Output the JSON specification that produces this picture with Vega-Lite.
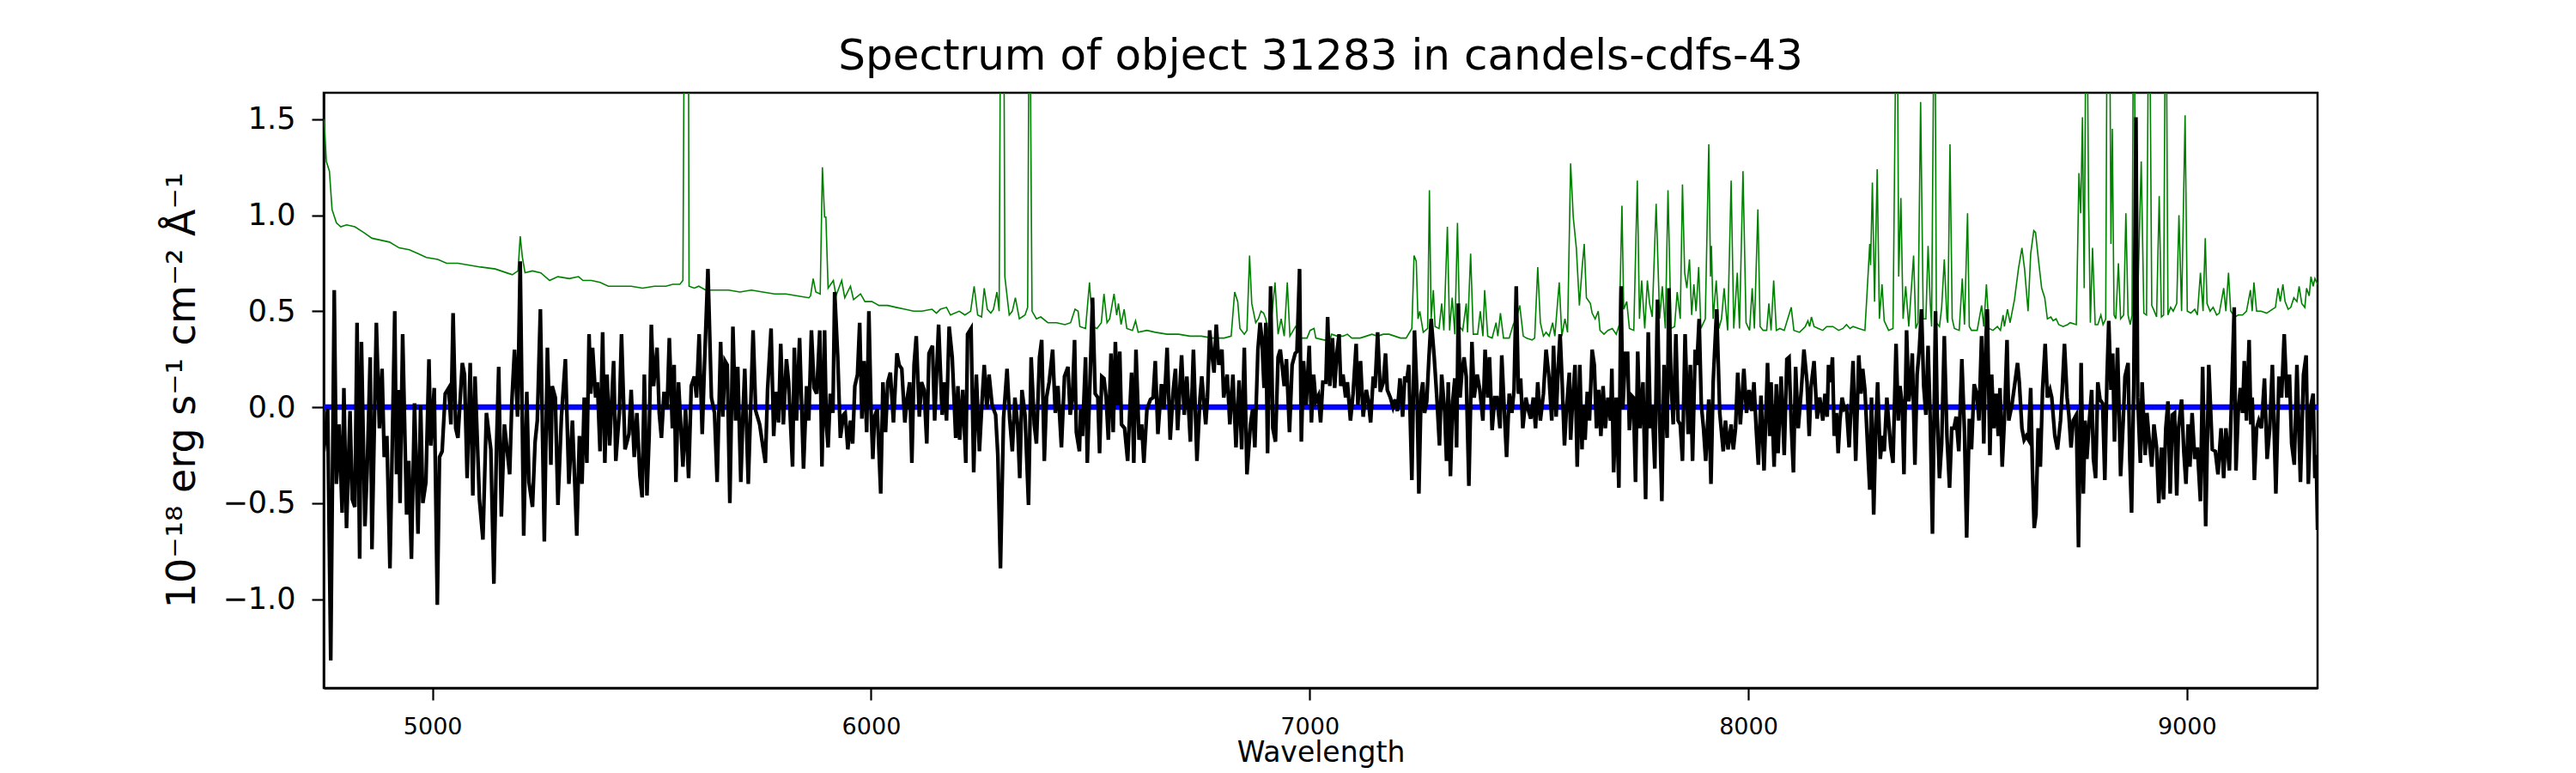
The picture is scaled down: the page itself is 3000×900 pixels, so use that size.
{
  "$schema": "https://vega.github.io/schema/vega-lite/v6.json",
  "width": 2322,
  "height": 693,
  "autosize": {"type": "none"},
  "padding": {"left": 377, "top": 108, "right": 301, "bottom": 99},
  "background": "white",
  "title": {
    "text": "Spectrum of object 31283 in candels-cdfs-43",
    "font": "DejaVu Sans",
    "fontSize": 50,
    "fontWeight": "normal",
    "color": "black",
    "anchor": "middle",
    "baseline": "alphabetic",
    "offset": 25,
    "dy": 48
  },
  "datasets": {
    "sky": [
      {"wave":4753,"flux":1.50},{"wave":4758,"flux":1.28},{"wave":4765,"flux":1.23},{"wave":4771,"flux":1.03},{"wave":4781,"flux":0.96},{"wave":4791,"flux":0.94},{"wave":4804,"flux":0.95},{"wave":4823,"flux":0.94},{"wave":4843,"flux":0.91},{"wave":4862,"flux":0.88},{"wave":4882,"flux":0.87},{"wave":4902,"flux":0.86},{"wave":4924,"flux":0.83},{"wave":4947,"flux":0.82},{"wave":4967,"flux":0.80},{"wave":4986,"flux":0.78},{"wave":5012,"flux":0.77},{"wave":5032,"flux":0.75},{"wave":5058,"flux":0.75},{"wave":5084,"flux":0.74},{"wave":5110,"flux":0.73},{"wave":5143,"flux":0.72},{"wave":5169,"flux":0.70},{"wave":5182,"flux":0.69},{"wave":5195,"flux":0.71},{"wave":5200,"flux":0.89},{"wave":5205,"flux":0.78},{"wave":5211,"flux":0.70},{"wave":5228,"flux":0.71},{"wave":5247,"flux":0.70},{"wave":5267,"flux":0.66},{"wave":5286,"flux":0.68},{"wave":5312,"flux":0.67},
      {"wave":5333,"flux":0.68},{"wave":5343,"flux":0.66},{"wave":5362,"flux":0.66},{"wave":5382,"flux":0.65},{"wave":5401,"flux":0.63},{"wave":5427,"flux":0.63},{"wave":5453,"flux":0.63},{"wave":5479,"flux":0.62},{"wave":5506,"flux":0.63},{"wave":5532,"flux":0.63},{"wave":5548,"flux":0.64},{"wave":5564,"flux":0.64},{"wave":5571,"flux":0.66},{"wave":5575,"flux":2.5},{"wave":5583,"flux":2.5},{"wave":5585,"flux":0.63},{"wave":5597,"flux":0.62},{"wave":5607,"flux":0.63},{"wave":5623,"flux":0.61},{"wave":5649,"flux":0.61},{"wave":5675,"flux":0.61},{"wave":5701,"flux":0.60},{"wave":5727,"flux":0.61},{"wave":5753,"flux":0.60},{"wave":5780,"flux":0.59},{"wave":5806,"flux":0.59},{"wave":5832,"flux":0.58},{"wave":5858,"flux":0.57},{"wave":5862,"flux":0.58},{"wave":5868,"flux":0.67},{"wave":5874,"flux":0.60},{"wave":5884,"flux":0.59},{"wave":5889,"flux":1.25},{"wave":5894,"flux":0.99},{"wave":5897,"flux":0.99},{"wave":5902,"flux":0.62},
      {"wave":5914,"flux":0.66},{"wave":5920,"flux":0.58},{"wave":5933,"flux":0.66},{"wave":5940,"flux":0.57},{"wave":5953,"flux":0.63},{"wave":5960,"flux":0.56},{"wave":5976,"flux":0.59},{"wave":5986,"flux":0.55},{"wave":6002,"flux":0.55},{"wave":6018,"flux":0.53},{"wave":6038,"flux":0.53},{"wave":6057,"flux":0.52},{"wave":6077,"flux":0.51},{"wave":6097,"flux":0.50},{"wave":6116,"flux":0.50},{"wave":6139,"flux":0.51},{"wave":6149,"flux":0.49},{"wave":6158,"flux":0.51},{"wave":6172,"flux":0.52},{"wave":6181,"flux":0.48},{"wave":6201,"flux":0.50},{"wave":6214,"flux":0.48},{"wave":6227,"flux":0.50},{"wave":6235,"flux":0.63},{"wave":6243,"flux":0.48},{"wave":6252,"flux":0.47},{"wave":6258,"flux":0.62},{"wave":6265,"flux":0.51},{"wave":6273,"flux":0.49},{"wave":6279,"flux":0.51},{"wave":6287,"flux":0.60},{"wave":6292,"flux":0.50},{"wave":6296,"flux":2.5},{"wave":6302,"flux":2.5},{"wave":6305,"flux":0.68},{"wave":6315,"flux":0.48},{"wave":6322,"flux":0.50},{"wave":6329,"flux":0.57},{"wave":6338,"flux":0.46},{"wave":6351,"flux":0.48},{"wave":6357,"flux":0.52},{"wave":6361,"flux":2.5},{"wave":6367,"flux":0.50},{"wave":6377,"flux":0.46},{"wave":6387,"flux":0.47},{"wave":6403,"flux":0.44},{"wave":6423,"flux":0.44},{"wave":6442,"flux":0.43},{"wave":6455,"flux":0.44},{"wave":6465,"flux":0.51},{"wave":6472,"flux":0.50},
      {"wave":6476,"flux":0.42},{"wave":6489,"flux":0.41},{"wave":6498,"flux":0.65},{"wave":6505,"flux":0.42},{"wave":6515,"flux":0.41},{"wave":6525,"flux":0.44},{"wave":6531,"flux":0.59},{"wave":6538,"flux":0.44},{"wave":6544,"flux":0.46},{"wave":6554,"flux":0.59},{"wave":6560,"flux":0.48},{"wave":6564,"flux":0.54},{"wave":6570,"flux":0.43},{"wave":6577,"flux":0.51},{"wave":6583,"flux":0.41},{"wave":6596,"flux":0.40},{"wave":6603,"flux":0.45},{"wave":6609,"flux":0.39},{"wave":6629,"flux":0.40},{"wave":6648,"flux":0.39},{"wave":6675,"flux":0.38},{"wave":6701,"flux":0.38},{"wave":6727,"flux":0.37},{"wave":6753,"flux":0.37},{"wave":6779,"flux":0.36},{"wave":6805,"flux":0.36},{"wave":6821,"flux":0.37},{"wave":6829,"flux":0.60},{"wave":6836,"flux":0.55},{"wave":6841,"flux":0.41},{"wave":6851,"flux":0.38},{"wave":6857,"flux":0.40},{"wave":6863,"flux":0.79},{"wave":6868,"flux":0.54},{"wave":6877,"flux":0.44},{"wave":6883,"flux":0.46},{"wave":6889,"flux":0.50},{"wave":6895,"flux":0.49},{"wave":6900,"flux":0.46},{"wave":6906,"flux":0.38},{"wave":6913,"flux":0.46},{"wave":6921,"flux":0.65},{"wave":6928,"flux":0.38},{"wave":6935,"flux":0.46},{"wave":6942,"flux":0.37},{"wave":6949,"flux":0.65},{"wave":6955,"flux":0.37},{"wave":6968,"flux":0.42},{"wave":6981,"flux":0.36},{"wave":6994,"flux":0.36},{"wave":7001,"flux":0.40},{"wave":7010,"flux":0.41},{"wave":7014,"flux":0.36},{"wave":7033,"flux":0.35},{"wave":7046,"flux":0.35},
      {"wave":7050,"flux":0.38},{"wave":7063,"flux":0.37},{"wave":7076,"flux":0.37},{"wave":7086,"flux":0.38},{"wave":7096,"flux":0.36},{"wave":7115,"flux":0.36},{"wave":7129,"flux":0.37},{"wave":7142,"flux":0.38},{"wave":7155,"flux":0.37},{"wave":7168,"flux":0.38},{"wave":7181,"flux":0.38},{"wave":7194,"flux":0.37},{"wave":7207,"flux":0.36},{"wave":7220,"flux":0.36},{"wave":7233,"flux":0.41},{"wave":7238,"flux":0.79},{"wave":7243,"flux":0.76},{"wave":7247,"flux":0.46},{"wave":7251,"flux":0.50},{"wave":7259,"flux":0.39},{"wave":7269,"flux":0.41},{"wave":7273,"flux":1.13},{"wave":7277,"flux":0.46},{"wave":7282,"flux":0.61},{"wave":7286,"flux":0.42},{"wave":7295,"flux":0.41},{"wave":7301,"flux":0.54},{"wave":7306,"flux":0.40},{"wave":7314,"flux":0.94},{"wave":7319,"flux":0.40},{"wave":7325,"flux":0.57},{"wave":7331,"flux":0.38},{"wave":7337,"flux":0.96},{"wave":7342,"flux":0.42},{"wave":7349,"flux":0.40},{"wave":7357,"flux":0.54},{"wave":7360,"flux":0.39},{"wave":7367,"flux":0.80},{"wave":7373,"flux":0.38},{"wave":7383,"flux":0.38},{"wave":7389,"flux":0.50},{"wave":7395,"flux":0.37},{"wave":7399,"flux":0.61},{"wave":7406,"flux":0.37},{"wave":7416,"flux":0.36},{"wave":7425,"flux":0.44},{"wave":7429,"flux":0.37},{"wave":7435,"flux":0.49},{"wave":7442,"flux":0.36},{"wave":7455,"flux":0.36},{"wave":7464,"flux":0.43},{"wave":7471,"flux":0.46},{"wave":7479,"flux":0.53},{"wave":7487,"flux":0.37},{"wave":7494,"flux":0.36},{"wave":7507,"flux":0.35},{"wave":7513,"flux":0.36},{"wave":7520,"flux":0.73},{"wave":7526,"flux":0.44},{"wave":7533,"flux":0.37},{"wave":7539,"flux":0.39},{"wave":7546,"flux":0.37},{"wave":7554,"flux":0.44},{"wave":7559,"flux":0.37},{"wave":7569,"flux":0.65},{"wave":7575,"flux":0.37},{"wave":7582,"flux":0.46},{"wave":7588,"flux":0.39},{"wave":7595,"flux":1.27},{"wave":7601,"flux":0.99},{"wave":7608,"flux":0.83},{"wave":7615,"flux":0.53},{"wave":7621,"flux":0.72},
      {"wave":7626,"flux":0.85},{"wave":7631,"flux":0.57},{"wave":7640,"flux":0.54},{"wave":7644,"flux":0.49},{"wave":7651,"flux":0.46},{"wave":7658,"flux":0.50},{"wave":7662,"flux":0.40},{"wave":7671,"flux":0.38},{"wave":7680,"flux":0.40},{"wave":7690,"flux":0.41},{"wave":7699,"flux":0.38},{"wave":7706,"flux":0.43},{"wave":7712,"flux":1.05},{"wave":7716,"flux":0.51},{"wave":7723,"flux":0.55},{"wave":7729,"flux":0.41},{"wave":7739,"flux":0.40},{"wave":7747,"flux":1.18},{"wave":7752,"flux":0.46},{"wave":7757,"flux":0.66},{"wave":7764,"flux":0.41},{"wave":7770,"flux":0.66},{"wave":7775,"flux":0.54},{"wave":7781,"flux":0.47},{"wave":7790,"flux":1.06},{"wave":7798,"flux":0.46},{"wave":7804,"flux":0.63},{"wave":7811,"flux":0.41},{"wave":7817,"flux":1.13},{"wave":7824,"flux":0.41},{"wave":7832,"flux":0.42},{"wave":7838,"flux":0.60},{"wave":7845,"flux":0.46},{"wave":7850,"flux":1.16},{"wave":7855,"flux":0.70},{"wave":7860,"flux":0.62},{"wave":7866,"flux":0.77},{"wave":7871,"flux":0.48},{"wave":7876,"flux":0.64},{"wave":7881,"flux":0.50},{"wave":7887,"flux":0.73},{"wave":7892,"flux":0.41},{"wave":7902,"flux":0.46},{"wave":7910,"flux":1.37},{"wave":7914,"flux":0.68},{"wave":7916,"flux":0.84},{"wave":7920,"flux":0.46},{"wave":7927,"flux":0.66},{"wave":7933,"flux":0.41},{"wave":7939,"flux":0.46},{"wave":7945,"flux":0.62},{"wave":7953,"flux":0.40},{"wave":7961,"flux":1.18},{"wave":7967,"flux":0.41},{"wave":7975,"flux":0.70},{"wave":7980,"flux":0.41},{"wave":7988,"flux":1.23},{"wave":7995,"flux":0.44},{"wave":8003,"flux":0.40},{"wave":8009,"flux":0.62},{"wave":8014,"flux":0.41},{"wave":8022,"flux":1.03},{"wave":8027,"flux":0.42},{"wave":8034,"flux":0.40},{"wave":8042,"flux":0.40},{"wave":8047,"flux":0.54},{"wave":8052,"flux":0.40},{"wave":8058,"flux":0.66},{"wave":8064,"flux":0.40},{"wave":8072,"flux":0.41},{"wave":8082,"flux":0.40},{"wave":8090,"flux":0.46},{"wave":8098,"flux":0.52},{"wave":8104,"flux":0.40},{"wave":8117,"flux":0.39},{"wave":8130,"flux":0.42},{"wave":8136,"flux":0.45},{"wave":8140,"flux":0.42},{"wave":8144,"flux":0.47},{"wave":8150,"flux":0.42},{"wave":8160,"flux":0.41},{"wave":8170,"flux":0.40},{"wave":8179,"flux":0.42},
      {"wave":8193,"flux":0.42},{"wave":8206,"flux":0.40},{"wave":8216,"flux":0.41},{"wave":8224,"flux":0.43},{"wave":8232,"flux":0.41},{"wave":8239,"flux":0.42},{"wave":8252,"flux":0.41},{"wave":8266,"flux":0.40},{"wave":8271,"flux":0.60},{"wave":8277,"flux":0.85},{"wave":8279,"flux":0.74},{"wave":8283,"flux":1.17},{"wave":8288,"flux":0.55},{"wave":8294,"flux":1.24},{"wave":8299,"flux":0.46},{"wave":8305,"flux":0.64},{"wave":8310,"flux":0.45},{"wave":8320,"flux":0.40},{"wave":8330,"flux":0.41},{"wave":8339,"flux":2.5},{"wave":8343,"flux":0.68},{"wave":8348,"flux":1.09},{"wave":8353,"flux":0.46},{"wave":8359,"flux":0.63},{"wave":8366,"flux":0.42},{"wave":8377,"flux":0.79},{"wave":8382,"flux":0.41},{"wave":8387,"flux":0.44},{"wave":8393,"flux":1.59},{"wave":8399,"flux":0.46},{"wave":8405,"flux":0.46},{"wave":8410,"flux":0.84},{"wave":8415,"flux":0.54},{"wave":8418,"flux":0.42},{"wave":8425,"flux":2.5},{"wave":8429,"flux":0.44},{"wave":8436,"flux":0.42},{"wave":8441,"flux":0.52},{"wave":8447,"flux":0.77},{"wave":8453,"flux":0.46},{"wave":8455,"flux":0.44},{"wave":8460,"flux":1.37},{"wave":8465,"flux":0.46},{"wave":8470,"flux":0.41},{"wave":8481,"flux":0.40},{"wave":8488,"flux":0.67},{"wave":8493,"flux":0.43},{"wave":8500,"flux":1.01},{"wave":8504,"flux":0.42},{"wave":8509,"flux":0.40},{"wave":8522,"flux":0.40},{"wave":8532,"flux":0.53},{"wave":8537,"flux":0.42},{"wave":8543,"flux":0.64},{"wave":8549,"flux":0.41},{"wave":8558,"flux":0.40},{"wave":8568,"flux":0.42},{"wave":8575,"flux":0.40},{"wave":8581,"flux":0.48},{"wave":8584,"flux":0.42},{"wave":8591,"flux":0.51},{"wave":8597,"flux":0.44},{"wave":8607,"flux":0.56},{"wave":8616,"flux":0.72},{"wave":8624,"flux":0.83},{"wave":8630,"flux":0.72},{"wave":8638,"flux":0.50},{"wave":8644,"flux":0.80},{"wave":8651,"flux":0.92},{"wave":8655,"flux":0.91},{"wave":8663,"flux":0.74},{"wave":8669,"flux":0.62},{"wave":8676,"flux":0.57},{"wave":8682,"flux":0.46},{"wave":8690,"flux":0.47},{"wave":8695,"flux":0.45},{"wave":8702,"flux":0.46},{"wave":8708,"flux":0.43},{"wave":8718,"flux":0.42},{"wave":8728,"flux":0.43},{"wave":8734,"flux":0.44},{"wave":8748,"flux":0.43},{"wave":8754,"flux":1.22},{"wave":8758,"flux":1.01},{"wave":8762,"flux":1.51},{"wave":8766,"flux":0.62},
      {"wave":8771,"flux":2.5},{"wave":8776,"flux":1.07},{"wave":8780,"flux":0.44},{"wave":8785,"flux":0.83},{"wave":8791,"flux":0.43},{"wave":8797,"flux":0.43},{"wave":8804,"flux":0.48},{"wave":8809,"flux":0.43},{"wave":8815,"flux":0.46},{"wave":8819,"flux":2.5},{"wave":8823,"flux":2.5},{"wave":8827,"flux":0.85},{"wave":8830,"flux":1.45},{"wave":8834,"flux":0.48},{"wave":8838,"flux":0.46},{"wave":8844,"flux":0.75},{"wave":8849,"flux":0.46},{"wave":8856,"flux":0.48},{"wave":8861,"flux":1.01},{"wave":8866,"flux":0.48},{"wave":8871,"flux":0.43},{"wave":8875,"flux":0.48},{"wave":8879,"flux":2.5},{"wave":8884,"flux":0.48},{"wave":8888,"flux":0.56},{"wave":8896,"flux":1.28},{"wave":8902,"flux":0.49},{"wave":8908,"flux":0.48},{"wave":8914,"flux":2.5},{"wave":8920,"flux":0.53},{"wave":8924,"flux":0.51},{"wave":8931,"flux":0.47},{"wave":8937,"flux":1.10},{"wave":8942,"flux":0.47},{"wave":8947,"flux":0.48},{"wave":8952,"flux":2.5},{"wave":8957,"flux":0.48},{"wave":8963,"flux":0.52},{"wave":8969,"flux":0.50},{"wave":8977,"flux":0.54},{"wave":8982,"flux":1.00},{"wave":8988,"flux":0.50},{"wave":8996,"flux":1.52},{"wave":9001,"flux":0.50},{"wave":9009,"flux":0.49},{"wave":9018,"flux":0.51},{"wave":9024,"flux":0.48},{"wave":9031,"flux":0.70},{"wave":9037,"flux":0.50},{"wave":9042,"flux":0.88},{"wave":9046,"flux":0.54},{"wave":9053,"flux":0.50},{"wave":9060,"flux":0.52},{"wave":9068,"flux":0.48},{"wave":9074,"flux":0.49},{"wave":9084,"flux":0.62},{"wave":9089,"flux":0.50},{"wave":9095,"flux":0.70},{"wave":9100,"flux":0.50},{"wave":9110,"flux":0.47},{"wave":9117,"flux":0.48},{"wave":9127,"flux":0.48},{"wave":9136,"flux":0.50},{"wave":9145,"flux":0.61},{"wave":9149,"flux":0.50},{"wave":9153,"flux":0.65},{"wave":9159,"flux":0.50},{"wave":9169,"flux":0.50},{"wave":9182,"flux":0.49},{"wave":9195,"flux":0.51},{"wave":9202,"flux":0.52},{"wave":9208,"flux":0.62},{"wave":9213,"flux":0.55},{"wave":9219,"flux":0.64},{"wave":9224,"flux":0.55},{"wave":9231,"flux":0.51},{"wave":9237,"flux":0.52},{"wave":9244,"flux":0.57},{"wave":9251,"flux":0.55},{"wave":9256,"flux":0.63},{"wave":9262,"flux":0.54},{"wave":9269,"flux":0.52},{"wave":9273,"flux":0.62},{"wave":9279,"flux":0.58},{"wave":9283,"flux":0.68},{"wave":9288,"flux":0.63},{"wave":9292,"flux":0.67},{"wave":9298,"flux":0.64}
    ],
    "zero": [
      {"wave":4752,"flux":0},{"wave":9298,"flux":0}
    ],
    "spectrum": [
      {"wave":4752,"flux":-0.23},{"wave":4761,"flux":-0.01},{"wave":4768,"flux":-1.32},{"wave":4776,"flux":0.61},{"wave":4781,"flux":-0.40},{"wave":4787,"flux":-0.09},{"wave":4794,"flux":-0.55},{"wave":4798,"flux":0.10},{"wave":4804,"flux":-0.63},{"wave":4812,"flux":-0.02},{"wave":4817,"flux":-0.48},{"wave":4823,"flux":-0.52},{"wave":4828,"flux":0.44},{"wave":4834,"flux":-0.79},{"wave":4838,"flux":0.34},{"wave":4846,"flux":-0.62},{"wave":4851,"flux":-0.33},{"wave":4858,"flux":0.26},{"wave":4862,"flux":-0.74},{"wave":4872,"flux":0.44},{"wave":4879,"flux":-0.11},{"wave":4885,"flux":0.20},{"wave":4890,"flux":-0.26},{"wave":4896,"flux":-0.15},{"wave":4903,"flux":-0.84},{"wave":4914,"flux":0.50},{"wave":4918,"flux":-0.35},{"wave":4922,"flux":0.09},{"wave":4926,"flux":-0.50},{"wave":4932,"flux":0.38},{"wave":4941,"flux":-0.56},{"wave":4946,"flux":-0.28},{"wave":4952,"flux":-0.79},{"wave":4959,"flux":0.02},{"wave":4967,"flux":-0.66},{"wave":4973,"flux":0.01},{"wave":4978,"flux":-0.50},{"wave":4985,"flux":-0.39},{"wave":4992,"flux":0.25},{"wave":4996,"flux":-0.20},{"wave":5004,"flux":0.10},{"wave":5011,"flux":-1.03},{"wave":5016,"flux":-0.26},{"wave":5022,"flux":-0.23},{"wave":5029,"flux":0.07},{"wave":5037,"flux":0.10},{"wave":5042,"flux":-0.09},{"wave":5047,"flux":0.49},{"wave":5053,"flux":-0.11},{"wave":5058,"flux":-0.16},{"wave":5068,"flux":0.23},{"wave":5073,"flux":0.17},{"wave":5079,"flux":-0.37},{"wave":5086,"flux":0.23},{"wave":5092,"flux":-0.46},{"wave":5097,"flux":0.16},{"wave":5107,"flux":-0.48},{"wave":5115,"flux":-0.69},{"wave":5123,"flux":-0.03},{"wave":5133,"flux":-0.22},{"wave":5140,"flux":-0.92},{"wave":5146,"flux":-0.20},{"wave":5151,"flux":0.21},{"wave":5157,"flux":-0.57},{"wave":5164,"flux":-0.09},{"wave":5176,"flux":-0.35},{"wave":5181,"flux":0.03},{"wave":5187,"flux":0.30},{"wave":5194,"flux":-0.05},{"wave":5200,"flux":0.76},{"wave":5208,"flux":-0.67},{"wave":5215,"flux":0.08},{"wave":5220,"flux":-0.39},{"wave":5228,"flux":-0.52},{"wave":5234,"flux":-0.18},{"wave":5239,"flux":-0.07},{"wave":5246,"flux":0.51},{"wave":5255,"flux":-0.70},{"wave":5262,"flux":0.31},{"wave":5270,"flux":-0.30},{"wave":5273,"flux":0.11},{"wave":5280,"flux":0.05},{"wave":5286,"flux":-0.51},{"wave":5294,"flux":-0.05},{"wave":5303,"flux":0.25},{"wave":5311,"flux":-0.40},{"wave":5319,"flux":-0.07},{"wave":5329,"flux":-0.67},{"wave":5335,"flux":-0.15},
      {"wave":5341,"flux":-0.40},{"wave":5346,"flux":0.05},{"wave":5352,"flux":-0.29},{"wave":5357,"flux":0.38},{"wave":5361,"flux":0.07},{"wave":5365,"flux":0.31},{"wave":5372,"flux":0.05},{"wave":5376,"flux":0.13},{"wave":5382,"flux":-0.23},{"wave":5388,"flux":0.39},{"wave":5393,"flux":-0.29},{"wave":5398,"flux":0.17},{"wave":5404,"flux":-0.20},{"wave":5409,"flux":0.05},{"wave":5413,"flux":0.24},{"wave":5418,"flux":-0.28},{"wave":5426,"flux":-0.03},{"wave":5431,"flux":0.38},{"wave":5439,"flux":-0.22},{"wave":5448,"flux":-0.14},{"wave":5453,"flux":0.09},{"wave":5460,"flux":-0.26},{"wave":5466,"flux":-0.03},{"wave":5473,"flux":-0.36},{"wave":5478,"flux":-0.47},{"wave":5483,"flux":0.17},{"wave":5489,"flux":-0.46},{"wave":5494,"flux":-0.15},{"wave":5499,"flux":0.43},{"wave":5504,"flux":0.11},{"wave":5512,"flux":0.31},{"wave":5517,"flux":-0.03},{"wave":5522,"flux":-0.16},{"wave":5528,"flux":0.08},{"wave":5535,"flux":-0.01},{"wave":5540,"flux":0.36},{"wave":5547,"flux":-0.11},{"wave":5551,"flux":0.22},{"wave":5555,"flux":-0.39},{"wave":5561,"flux":0.13},{"wave":5571,"flux":-0.31},{"wave":5577,"flux":-0.01},{"wave":5584,"flux":-0.37},{"wave":5590,"flux":0.11},{"wave":5597,"flux":0.16},{"wave":5602,"flux":0.05},{"wave":5608,"flux":0.38},{"wave":5615,"flux":-0.14},{"wave":5620,"flux":0.21},{"wave":5628,"flux":0.72},{"wave":5636,"flux":0.05},{"wave":5643,"flux":-0.03},{"wave":5649,"flux":-0.39},{"wave":5657,"flux":0.34},{"wave":5662,"flux":-0.05},{"wave":5667,"flux":0.24},{"wave":5672,"flux":0.22},{"wave":5678,"flux":-0.50},{"wave":5685,"flux":0.42},{"wave":5691,"flux":-0.07},{"wave":5696,"flux":0.21},{"wave":5703,"flux":-0.39},{"wave":5708,"flux":-0.03},{"wave":5712,"flux":0.20},{"wave":5720,"flux":-0.40},{"wave":5731,"flux":0.40},{"wave":5737,"flux":-0.02},{"wave":5746,"flux":-0.09},{"wave":5753,"flux":-0.20},{"wave":5759,"flux":-0.29},{"wave":5764,"flux":0.09},{"wave":5772,"flux":0.41},{"wave":5778,"flux":-0.15},{"wave":5783,"flux":0.08},{"wave":5789,"flux":-0.08},{"wave":5794,"flux":0.33},{"wave":5800,"flux":-0.09},{"wave":5807,"flux":0.25},{"wave":5812,"flux":0.13},{"wave":5821,"flux":-0.31},{"wave":5825,"flux":0.31},{"wave":5830,"flux":-0.07},{"wave":5837,"flux":0.36},{"wave":5846,"flux":-0.32},{"wave":5853,"flux":0.11},{"wave":5858,"flux":-0.07},{"wave":5864,"flux":0.40},{"wave":5870,"flux":0.10},{"wave":5876,"flux":0.07},{"wave":5883,"flux":0.40},{"wave":5888,"flux":-0.31},{"wave":5894,"flux":0.40},
      {"wave":5898,"flux":-0.09},{"wave":5902,"flux":-0.21},{"wave":5907,"flux":0.07},{"wave":5913,"flux":-0.03},{"wave":5917,"flux":0.60},{"wave":5924,"flux":0.26},{"wave":5930,"flux":-0.16},{"wave":5937,"flux":-0.04},{"wave":5941,"flux":-0.03},{"wave":5947,"flux":-0.22},{"wave":5953,"flux":-0.07},{"wave":5958,"flux":-0.19},{"wave":5963,"flux":0.11},{"wave":5969,"flux":0.17},{"wave":5974,"flux":0.44},{"wave":5979,"flux":-0.06},{"wave":5984,"flux":0.24},{"wave":5990,"flux":-0.13},{"wave":5995,"flux":0.50},{"wave":6000,"flux":-0.02},{"wave":6004,"flux":-0.27},{"wave":6008,"flux":-0.05},{"wave":6014,"flux":-0.01},{"wave":6022,"flux":-0.45},{"wave":6027,"flux":0.13},{"wave":6033,"flux":-0.13},{"wave":6038,"flux":0.13},{"wave":6044,"flux":0.18},{"wave":6051,"flux":-0.08},{"wave":6059,"flux":0.28},{"wave":6064,"flux":0.22},{"wave":6070,"flux":0.20},{"wave":6077,"flux":-0.08},{"wave":6082,"flux":0.04},{"wave":6088,"flux":0.13},{"wave":6093,"flux":-0.29},{"wave":6098,"flux":0.22},{"wave":6103,"flux":0.37},{"wave":6110,"flux":-0.05},{"wave":6115,"flux":0.13},{"wave":6121,"flux":0.09},{"wave":6127,"flux":-0.19},{"wave":6132,"flux":0.28},{"wave":6140,"flux":0.32},{"wave":6145,"flux":-0.07},{"wave":6154,"flux":0.43},{"wave":6162,"flux":-0.04},{"wave":6167,"flux":0.13},{"wave":6172,"flux":-0.07},{"wave":6178,"flux":0.42},{"wave":6185,"flux":0.26},{"wave":6193,"flux":-0.16},{"wave":6198,"flux":0.11},{"wave":6202,"flux":-0.17},{"wave":6209,"flux":0.09},{"wave":6216,"flux":-0.29},{"wave":6220,"flux":0.38},{"wave":6228,"flux":0.41},{"wave":6234,"flux":-0.34},{"wave":6240,"flux":0.17},{"wave":6247,"flux":-0.23},{"wave":6253,"flux":0.03},{"wave":6258,"flux":0.22},{"wave":6264,"flux":-0.01},{"wave":6269,"flux":0.17},{"wave":6276,"flux":0.01},{"wave":6284,"flux":-0.04},{"wave":6289,"flux":-0.25},{"wave":6295,"flux":-0.84},{"wave":6302,"flux":-0.06},{"wave":6310,"flux":0.20},{"wave":6316,"flux":-0.06},{"wave":6322,"flux":-0.23},{"wave":6328,"flux":0.05},{"wave":6334,"flux":-0.09},{"wave":6339,"flux":-0.37},{"wave":6344,"flux":0.09},{"wave":6351,"flux":-0.04},{"wave":6359,"flux":-0.51},{"wave":6365,"flux":0.26},{"wave":6372,"flux":-0.09},{"wave":6377,"flux":-0.19},{"wave":6384,"flux":0.26},{"wave":6389,"flux":0.35},{"wave":6395,"flux":-0.28},{"wave":6400,"flux":0.05},{"wave":6406,"flux":0.13},{"wave":6414,"flux":0.30},{"wave":6420,"flux":-0.03},{"wave":6426,"flux":0.11},{"wave":6434,"flux":-0.21},{"wave":6441,"flux":0.16},{"wave":6449,"flux":0.21},{"wave":6454,"flux":-0.04},{"wave":6459,"flux":0.05},{"wave":6464,"flux":0.35},{"wave":6468,"flux":-0.13},{"wave":6475,"flux":-0.23},
      {"wave":6478,"flux":-0.01},{"wave":6482,"flux":-0.15},{"wave":6489,"flux":0.26},{"wave":6493,"flux":-0.29},{"wave":6498,"flux":0.05},{"wave":6505,"flux":0.57},{"wave":6511,"flux":0.07},{"wave":6517,"flux":0.05},{"wave":6521,"flux":-0.24},{"wave":6526,"flux":0.16},{"wave":6531,"flux":0.15},{"wave":6536,"flux":0.05},{"wave":6541,"flux":-0.17},{"wave":6547,"flux":0.28},{"wave":6552,"flux":-0.13},{"wave":6557,"flux":0.34},{"wave":6562,"flux":0.01},{"wave":6567,"flux":0.29},{"wave":6571,"flux":-0.09},{"wave":6578,"flux":-0.11},{"wave":6585,"flux":-0.28},{"wave":6590,"flux":-0.01},{"wave":6594,"flux":0.18},{"wave":6599,"flux":-0.29},{"wave":6604,"flux":0.30},{"wave":6611,"flux":-0.17},{"wave":6617,"flux":-0.09},{"wave":6622,"flux":-0.29},{"wave":6629,"flux":-0.01},{"wave":6637,"flux":0.04},{"wave":6643,"flux":0.05},{"wave":6648,"flux":0.24},{"wave":6654,"flux":-0.14},{"wave":6662,"flux":0.12},{"wave":6668,"flux":-0.01},{"wave":6675,"flux":0.31},{"wave":6682,"flux":-0.17},{"wave":6689,"flux":0.09},{"wave":6694,"flux":0.20},{"wave":6699,"flux":-0.12},{"wave":6708,"flux":0.27},{"wave":6714,"flux":-0.04},{"wave":6720,"flux":0.16},{"wave":6728,"flux":-0.18},{"wave":6735,"flux":0.30},{"wave":6743,"flux":-0.28},{"wave":6750,"flux":0.05},{"wave":6754,"flux":0.16},{"wave":6763,"flux":-0.09},{"wave":6767,"flux":0.05},{"wave":6772,"flux":0.40},{"wave":6778,"flux":0.26},{"wave":6782,"flux":0.18},{"wave":6787,"flux":0.43},{"wave":6793,"flux":0.22},{"wave":6800,"flux":0.30},{"wave":6804,"flux":0.05},{"wave":6812,"flux":0.17},{"wave":6818,"flux":-0.09},{"wave":6825,"flux":0.17},{"wave":6832,"flux":-0.21},{"wave":6839,"flux":0.14},{"wave":6845,"flux":-0.22},{"wave":6851,"flux":0.31},{"wave":6857,"flux":-0.35},{"wave":6865,"flux":-0.09},{"wave":6870,"flux":-0.01},{"wave":6875,"flux":-0.21},{"wave":6882,"flux":0.30},{"wave":6887,"flux":0.44},{"wave":6891,"flux":0.36},{"wave":6896,"flux":0.10},{"wave":6900,"flux":0.44},{"wave":6904,"flux":-0.24},{"wave":6911,"flux":0.63},{"wave":6916,"flux":-0.11},{"wave":6922,"flux":-0.18},{"wave":6928,"flux":0.26},{"wave":6933,"flux":0.30},{"wave":6937,"flux":0.22},{"wave":6942,"flux":0.11},{"wave":6947,"flux":0.25},{"wave":6954,"flux":-0.13},{"wave":6960,"flux":0.22},{"wave":6967,"flux":0.28},{"wave":6971,"flux":0.29},{"wave":6977,"flux":0.72},{"wave":6981,"flux":-0.18},{"wave":6986,"flux":0.24},{"wave":6992,"flux":0.01},{"wave":6999,"flux":0.32},{"wave":7004,"flux":-0.08},{"wave":7009,"flux":0.17},{"wave":7014,"flux":0.03},{"wave":7020,"flux":0.06},{"wave":7025,"flux":-0.08},{"wave":7030,"flux":0.13},{"wave":7037,"flux":0.13},{"wave":7041,"flux":0.47},{"wave":7046,"flux":0.11},
      {"wave":7052,"flux":0.36},{"wave":7057,"flux":0.10},{"wave":7062,"flux":0.28},{"wave":7067,"flux":0.38},{"wave":7071,"flux":0.11},{"wave":7076,"flux":0.17},{"wave":7082,"flux":0.05},{"wave":7086,"flux":0.13},{"wave":7093,"flux":-0.07},{"wave":7099,"flux":0.07},{"wave":7106,"flux":0.33},{"wave":7110,"flux":0.01},{"wave":7116,"flux":0.24},{"wave":7122,"flux":-0.05},{"wave":7129,"flux":0.09},{"wave":7134,"flux":0.03},{"wave":7139,"flux":-0.08},{"wave":7145,"flux":0.16},{"wave":7149,"flux":0.10},{"wave":7155,"flux":0.39},{"wave":7161,"flux":0.08},{"wave":7168,"flux":0.13},{"wave":7173,"flux":0.28},{"wave":7177,"flux":0.09},{"wave":7184,"flux":0.05},{"wave":7190,"flux":0.00},{"wave":7195,"flux":0.04},{"wave":7200,"flux":-0.02},{"wave":7206,"flux":0.15},{"wave":7212,"flux":-0.05},{"wave":7217,"flux":0.16},{"wave":7221,"flux":0.13},{"wave":7226,"flux":0.22},{"wave":7233,"flux":-0.38},{"wave":7239,"flux":0.40},{"wave":7245,"flux":0.05},{"wave":7249,"flux":-0.45},{"wave":7254,"flux":0.07},{"wave":7258,"flux":0.13},{"wave":7262,"flux":-0.03},{"wave":7267,"flux":0.03},{"wave":7272,"flux":0.26},{"wave":7277,"flux":0.46},{"wave":7284,"flux":0.26},{"wave":7290,"flux":0.05},{"wave":7296,"flux":-0.20},{"wave":7301,"flux":0.17},{"wave":7308,"flux":-0.03},{"wave":7312,"flux":-0.28},{"wave":7316,"flux":0.13},{"wave":7321,"flux":-0.36},{"wave":7326,"flux":0.03},{"wave":7331,"flux":0.15},{"wave":7335,"flux":-0.21},{"wave":7339,"flux":0.54},{"wave":7343,"flux":0.05},{"wave":7347,"flux":0.18},{"wave":7352,"flux":0.26},{"wave":7357,"flux":0.16},{"wave":7363,"flux":-0.41},{"wave":7370,"flux":0.34},{"wave":7375,"flux":0.05},{"wave":7382,"flux":0.17},{"wave":7388,"flux":0.09},{"wave":7395,"flux":-0.07},{"wave":7400,"flux":0.30},{"wave":7406,"flux":0.05},{"wave":7410,"flux":0.26},{"wave":7416,"flux":-0.12},{"wave":7422,"flux":0.05},{"wave":7427,"flux":0.05},{"wave":7434,"flux":-0.11},{"wave":7438,"flux":0.27},{"wave":7444,"flux":-0.03},{"wave":7449,"flux":-0.26},{"wave":7455,"flux":0.07},{"wave":7461,"flux":-0.03},{"wave":7466,"flux":0.09},{"wave":7471,"flux":0.63},{"wave":7476,"flux":0.07},{"wave":7481,"flux":0.15},{"wave":7486,"flux":-0.11},{"wave":7493,"flux":0.05},{"wave":7498,"flux":-0.01},{"wave":7504,"flux":-0.06},{"wave":7510,"flux":0.05},{"wave":7515,"flux":-0.11},{"wave":7520,"flux":0.13},{"wave":7526,"flux":-0.07},{"wave":7533,"flux":0.07},{"wave":7539,"flux":0.30},{"wave":7546,"flux":0.15},{"wave":7552,"flux":-0.07},{"wave":7556,"flux":0.32},{"wave":7562,"flux":-0.05},{"wave":7567,"flux":0.22},{"wave":7571,"flux":0.38},{"wave":7575,"flux":0.17},{"wave":7581,"flux":-0.20},{"wave":7585,"flux":-0.03},{"wave":7592,"flux":0.18},{"wave":7595,"flux":-0.17},{"wave":7599,"flux":0.01},{"wave":7605,"flux":0.22},{"wave":7610,"flux":-0.31},{"wave":7616,"flux":0.22},{"wave":7621,"flux":-0.22},
      {"wave":7623,"flux":0.01},{"wave":7628,"flux":-0.17},{"wave":7633,"flux":0.08},{"wave":7638,"flux":-0.07},{"wave":7644,"flux":0.30},{"wave":7649,"flux":0.22},{"wave":7654,"flux":-0.11},{"wave":7659,"flux":0.09},{"wave":7664,"flux":-0.15},{"wave":7669,"flux":0.11},{"wave":7674,"flux":-0.11},{"wave":7680,"flux":0.05},{"wave":7686,"flux":-0.07},{"wave":7689,"flux":0.20},{"wave":7693,"flux":-0.34},{"wave":7699,"flux":0.05},{"wave":7705,"flux":-0.42},{"wave":7710,"flux":0.63},{"wave":7714,"flux":-0.01},{"wave":7720,"flux":0.28},{"wave":7725,"flux":0.28},{"wave":7729,"flux":-0.12},{"wave":7734,"flux":0.06},{"wave":7738,"flux":0.05},{"wave":7743,"flux":-0.39},{"wave":7748,"flux":0.29},{"wave":7753,"flux":-0.11},{"wave":7760,"flux":0.13},{"wave":7766,"flux":-0.48},{"wave":7772,"flux":0.39},{"wave":7777,"flux":-0.11},{"wave":7781,"flux":0.01},{"wave":7787,"flux":-0.32},{"wave":7793,"flux":0.56},{"wave":7798,"flux":-0.07},{"wave":7803,"flux":-0.49},{"wave":7808,"flux":0.22},{"wave":7815,"flux":-0.16},{"wave":7819,"flux":0.62},{"wave":7824,"flux":0.13},{"wave":7829,"flux":-0.09},{"wave":7835,"flux":0.38},{"wave":7840,"flux":-0.07},{"wave":7845,"flux":-0.09},{"wave":7850,"flux":-0.28},{"wave":7856,"flux":0.38},{"wave":7863,"flux":-0.14},{"wave":7868,"flux":0.22},{"wave":7873,"flux":-0.28},{"wave":7879,"flux":0.30},{"wave":7883,"flux":0.22},{"wave":7888,"flux":0.46},{"wave":7893,"flux":0.01},{"wave":7898,"flux":-0.11},{"wave":7903,"flux":-0.28},{"wave":7910,"flux":0.04},{"wave":7915,"flux":-0.40},{"wave":7920,"flux":0.13},{"wave":7928,"flux":0.51},{"wave":7935,"flux":-0.03},{"wave":7943,"flux":-0.23},{"wave":7948,"flux":-0.07},{"wave":7954,"flux":-0.22},{"wave":7961,"flux":-0.09},{"wave":7966,"flux":-0.22},{"wave":7971,"flux":-0.11},{"wave":7976,"flux":0.18},{"wave":7982,"flux":-0.09},{"wave":7990,"flux":0.20},{"wave":7996,"flux":-0.03},{"wave":8002,"flux":0.09},{"wave":8008,"flux":-0.02},{"wave":8013,"flux":0.13},{"wave":8018,"flux":-0.11},{"wave":8023,"flux":-0.30},{"wave":8029,"flux":0.06},{"wave":8036,"flux":-0.33},{"wave":8044,"flux":0.23},{"wave":8049,"flux":-0.15},{"wave":8052,"flux":0.13},{"wave":8059,"flux":-0.31},{"wave":8064,"flux":0.12},{"wave":8068,"flux":-0.24},{"wave":8075,"flux":0.16},{"wave":8082,"flux":-0.25},{"wave":8088,"flux":0.25},{"wave":8093,"flux":0.26},{"wave":8098,"flux":-0.09},{"wave":8103,"flux":-0.34},{"wave":8108,"flux":0.21},{"wave":8114,"flux":-0.11},{"wave":8121,"flux":0.09},{"wave":8127,"flux":0.30},{"wave":8134,"flux":0.13},{"wave":8139,"flux":-0.15},{"wave":8143,"flux":0.10},{"wave":8150,"flux":0.24},{"wave":8157,"flux":-0.06},{"wave":8163,"flux":0.05},{"wave":8170,"flux":-0.07},{"wave":8175,"flux":0.07},
      {"wave":8180,"flux":-0.05},{"wave":8183,"flux":0.22},{"wave":8188,"flux":0.13},{"wave":8192,"flux":0.26},{"wave":8196,"flux":-0.15},{"wave":8201,"flux":-0.03},{"wave":8205,"flux":-0.24},{"wave":8209,"flux":-0.07},{"wave":8214,"flux":0.05},{"wave":8219,"flux":-0.01},{"wave":8224,"flux":0.00},{"wave":8230,"flux":-0.21},{"wave":8234,"flux":-0.01},{"wave":8239,"flux":0.24},{"wave":8245,"flux":-0.28},{"wave":8252,"flux":0.27},{"wave":8257,"flux":0.07},{"wave":8261,"flux":0.20},{"wave":8266,"flux":0.09},{"wave":8271,"flux":-0.15},{"wave":8277,"flux":-0.43},{"wave":8281,"flux":0.05},{"wave":8286,"flux":-0.56},{"wave":8291,"flux":-0.09},{"wave":8295,"flux":0.13},{"wave":8301,"flux":-0.27},{"wave":8306,"flux":-0.15},{"wave":8310,"flux":-0.23},{"wave":8316,"flux":0.05},{"wave":8320,"flux":-0.07},{"wave":8325,"flux":-0.21},{"wave":8330,"flux":-0.29},{"wave":8337,"flux":0.33},{"wave":8342,"flux":-0.07},{"wave":8346,"flux":0.11},{"wave":8351,"flux":0.01},{"wave":8355,"flux":-0.35},{"wave":8361,"flux":0.40},{"wave":8366,"flux":0.03},{"wave":8370,"flux":0.11},{"wave":8374,"flux":0.28},{"wave":8380,"flux":-0.30},{"wave":8385,"flux":0.17},{"wave":8390,"flux":0.30},{"wave":8395,"flux":0.51},{"wave":8400,"flux":0.11},{"wave":8405,"flux":-0.04},{"wave":8410,"flux":0.32},{"wave":8415,"flux":-0.07},{"wave":8420,"flux":-0.66},{"wave":8427,"flux":0.50},{"wave":8431,"flux":-0.05},{"wave":8436,"flux":-0.37},{"wave":8441,"flux":-0.19},{"wave":8447,"flux":0.37},{"wave":8453,"flux":-0.15},{"wave":8459,"flux":-0.42},{"wave":8464,"flux":-0.11},{"wave":8469,"flux":-0.11},{"wave":8474,"flux":-0.05},{"wave":8480,"flux":-0.23},{"wave":8487,"flux":0.25},{"wave":8493,"flux":-0.13},{"wave":8498,"flux":-0.68},{"wave":8504,"flux":-0.06},{"wave":8509,"flux":-0.22},{"wave":8515,"flux":0.12},{"wave":8521,"flux":0.07},{"wave":8526,"flux":-0.07},{"wave":8532,"flux":0.37},{"wave":8537,"flux":-0.19},{"wave":8542,"flux":0.36},{"wave":8545,"flux":0.51},{"wave":8551,"flux":-0.25},{"wave":8555,"flux":0.17},{"wave":8560,"flux":-0.11},{"wave":8565,"flux":0.07},{"wave":8570,"flux":-0.15},{"wave":8574,"flux":0.10},{"wave":8579,"flux":-0.31},{"wave":8584,"flux":-0.07},{"wave":8590,"flux":0.35},{"wave":8594,"flux":-0.07},{"wave":8601,"flux":0.01},{"wave":8607,"flux":0.11},{"wave":8614,"flux":0.23},{"wave":8618,"flux":0.13},{"wave":8624,"flux":-0.11},{"wave":8629,"flux":-0.17},{"wave":8634,"flux":-0.15},{"wave":8639,"flux":-0.17},{"wave":8644,"flux":0.10},{"wave":8648,"flux":-0.33},{"wave":8652,"flux":-0.63},{"wave":8656,"flux":-0.56},{"wave":8661,"flux":-0.11},{"wave":8666,"flux":-0.31},{"wave":8671,"flux":0.09},{"wave":8677,"flux":0.33},{"wave":8682,"flux":0.05},{"wave":8688,"flux":0.09},{"wave":8692,"flux":0.05},{"wave":8699,"flux":-0.15},{"wave":8705,"flux":-0.22},{"wave":8712,"flux":-0.07},{"wave":8716,"flux":0.09},{"wave":8721,"flux":0.33},{"wave":8727,"flux":0.05},{"wave":8731,"flux":-0.04},{"wave":8736,"flux":-0.21},{"wave":8741,"flux":-0.07},{"wave":8748,"flux":-0.04},{"wave":8753,"flux":-0.73},{"wave":8759,"flux":0.23},{"wave":8764,"flux":-0.45},
      {"wave":8768,"flux":-0.07},{"wave":8772,"flux":-0.27},{"wave":8778,"flux":-0.06},{"wave":8783,"flux":0.09},{"wave":8787,"flux":-0.27},{"wave":8792,"flux":-0.37},{"wave":8797,"flux":0.13},{"wave":8802,"flux":0.04},{"wave":8808,"flux":0.02},{"wave":8813,"flux":-0.38},{"wave":8818,"flux":0.16},{"wave":8822,"flux":0.45},{"wave":8827,"flux":0.09},{"wave":8831,"flux":0.28},{"wave":8835,"flux":-0.18},{"wave":8842,"flux":0.31},{"wave":8846,"flux":-0.05},{"wave":8849,"flux":-0.36},{"wave":8855,"flux":-0.07},{"wave":8859,"flux":0.16},{"wave":8866,"flux":0.23},{"wave":8870,"flux":-0.27},{"wave":8874,"flux":-0.55},{"wave":8879,"flux":0.13},{"wave":8884,"flux":1.51},{"wave":8888,"flux":0.05},{"wave":8894,"flux":-0.29},{"wave":8898,"flux":0.13},{"wave":8905,"flux":-0.25},{"wave":8909,"flux":-0.03},{"wave":8915,"flux":-0.19},{"wave":8920,"flux":-0.31},{"wave":8925,"flux":-0.09},{"wave":8931,"flux":-0.21},{"wave":8936,"flux":-0.50},{"wave":8942,"flux":-0.21},{"wave":8947,"flux":-0.48},{"wave":8952,"flux":-0.11},{"wave":8957,"flux":0.03},{"wave":8962,"flux":-0.45},{"wave":8967,"flux":-0.04},{"wave":8972,"flux":-0.03},{"wave":8977,"flux":-0.46},{"wave":8981,"flux":-0.11},{"wave":8988,"flux":0.04},{"wave":8993,"flux":-0.23},{"wave":8998,"flux":-0.40},{"wave":9003,"flux":-0.09},{"wave":9007,"flux":-0.31},{"wave":9012,"flux":-0.03},{"wave":9018,"flux":-0.27},{"wave":9024,"flux":-0.21},{"wave":9031,"flux":-0.49},{"wave":9036,"flux":0.21},{"wave":9043,"flux":-0.62},{"wave":9050,"flux":0.22},{"wave":9058,"flux":-0.22},{"wave":9065,"flux":-0.23},{"wave":9071,"flux":-0.35},{"wave":9078,"flux":-0.11},{"wave":9084,"flux":-0.37},{"wave":9089,"flux":-0.11},{"wave":9097,"flux":-0.33},{"wave":9102,"flux":0.05},{"wave":9108,"flux":0.52},{"wave":9112,"flux":-0.33},{"wave":9117,"flux":-0.03},{"wave":9122,"flux":0.10},{"wave":9127,"flux":-0.03},{"wave":9131,"flux":0.24},{"wave":9136,"flux":-0.07},{"wave":9142,"flux":0.35},{"wave":9146,"flux":-0.09},{"wave":9149,"flux":0.05},{"wave":9154,"flux":-0.38},{"wave":9159,"flux":-0.11},{"wave":9164,"flux":-0.07},{"wave":9170,"flux":-0.11},{"wave":9177,"flux":0.15},{"wave":9183,"flux":-0.27},{"wave":9189,"flux":-0.11},{"wave":9195,"flux":0.22},{"wave":9203,"flux":-0.45},{"wave":9210,"flux":0.16},{"wave":9216,"flux":0.05},{"wave":9222,"flux":0.38},{"wave":9228,"flux":0.05},{"wave":9234,"flux":0.17},{"wave":9239,"flux":-0.19},{"wave":9245,"flux":-0.30},{"wave":9251,"flux":0.22},{"wave":9259,"flux":-0.39},{"wave":9266,"flux":0.17},{"wave":9272,"flux":0.27},{"wave":9277,"flux":-0.40},{"wave":9283,"flux":0.01},{"wave":9288,"flux":0.07},{"wave":9292,"flux":-0.37},{"wave":9295,"flux":-0.25},{"wave":9298,"flux":-0.64}
    ]
  },
  "encoding": {
    "x": {
      "field": "wave",
      "type": "quantitative",
      "scale": {"domain": [4752, 9298], "nice": false, "zero": false},
      "axis": {
        "title": "Wavelength",
        "values": [5000, 6000, 7000, 8000, 9000],
        "format": "d",
        "labelFontSize": 27,
        "titleFontSize": 33,
        "tickSize": 14,
        "labelPadding": 18,
        "titlePadding": 1
      }
    },
    "y": {
      "field": "flux",
      "type": "quantitative",
      "scale": {"domain": [-1.463, 1.638], "nice": false, "zero": false},
      "axis": {
        "title": "10⁻¹⁸ erg s⁻¹ cm⁻² Å⁻¹",
        "values": [-1, -0.5, 0, 0.5, 1, 1.5],
        "format": ".1f",
        "labelFontSize": 35,
        "titleFontSize": 46,
        "tickSize": 14,
        "labelPadding": 19,
        "titleAngle": 270,
        "titleAlign": "center",
        "titleBaseline": "middle",
        "titleX": -165,
        "titleY": 346
      }
    }
  },
  "layer": [
    {
      "data": {"name": "sky"},
      "mark": {"type": "line", "color": "#008000", "strokeWidth": 1.6, "clip": true}
    },
    {
      "data": {"name": "zero"},
      "mark": {"type": "line", "color": "#0000ff", "strokeWidth": 6.5, "clip": true}
    },
    {
      "data": {"name": "spectrum"},
      "mark": {"type": "line", "color": "black", "strokeWidth": 4.3, "strokeJoin": "miter", "clip": true}
    }
  ],
  "config": {
    "view": {"stroke": "black", "strokeWidth": 2.5},
    "axis": {
      "grid": false,
      "labelFont": "DejaVu Sans",
      "titleFont": "DejaVu Sans",
      "titleFontWeight": "normal",
      "labelColor": "black",
      "titleColor": "black",
      "tickColor": "black",
      "tickWidth": 2.2,
      "domainColor": "black",
      "domainWidth": 2.5
    }
  }
}
